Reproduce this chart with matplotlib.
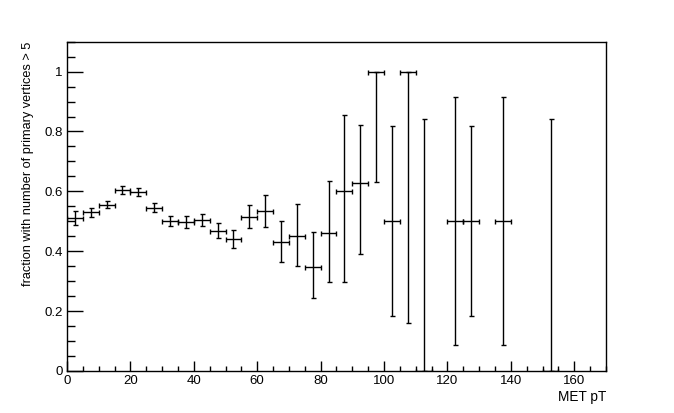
import matplotlib
matplotlib.use("Agg")
import matplotlib.pyplot as plt
from matplotlib.ticker import MultipleLocator, FuncFormatter

plt.rcParams['font.family'] = ['Liberation Sans', 'DejaVu Sans']

# bin centres (MET pT), bin half width 2.5
centers = [2.5, 7.5, 12.5, 17.5, 22.5, 27.5, 32.5, 37.5, 42.5, 47.5,
           52.5, 57.5, 62.5, 67.5, 72.5, 77.5, 82.5, 87.5, 92.5, 97.5,
           102.5, 107.5, 112.5, 122.5, 127.5, 137.5, 152.5]
values = [0.511, 0.531, 0.556, 0.604, 0.598, 0.546, 0.501, 0.499, 0.504, 0.468,
          0.440, 0.516, 0.534, 0.432, 0.452, 0.347, 0.462, 0.601, 0.627, 1.0,
          0.5, 1.0, 0.0, 0.5, 0.5, 0.5, 0.0]
err_low = [0.023, 0.015, 0.012, 0.013, 0.013, 0.016, 0.017, 0.020, 0.020, 0.025,
           0.030, 0.038, 0.054, 0.068, 0.101, 0.102, 0.164, 0.303, 0.235, 0.369,
           0.316, 0.841, 0.0, 0.414, 0.316, 0.414, 0.0]
err_high = [0.023, 0.015, 0.012, 0.013, 0.013, 0.016, 0.017, 0.020, 0.020, 0.025,
            0.030, 0.038, 0.053, 0.068, 0.106, 0.118, 0.172, 0.253, 0.194, 0.0,
            0.318, 0.0, 0.841, 0.414, 0.318, 0.414, 0.841]
half_width = [2.5] * len(centers)

fig = plt.figure(figsize=(6.74, 4.13), dpi=100)
ax = fig.add_axes([0.0994, 0.1017, 0.7997, 0.7974])

ax.errorbar(centers, values, xerr=half_width, yerr=[err_low, err_high],
            fmt='none', ecolor='black', elinewidth=1.0, capsize=1.8,
            capthick=1.0)

ax.set_xlim(0, 170)
ax.set_ylim(0, 1.1)

ax.xaxis.set_major_locator(MultipleLocator(20))
ax.xaxis.set_minor_locator(MultipleLocator(5))
ax.yaxis.set_major_locator(MultipleLocator(0.2))
ax.yaxis.set_minor_locator(MultipleLocator(0.05))
fmt = FuncFormatter(lambda v, p: '%g' % round(v, 6))
ax.xaxis.set_major_formatter(fmt)
ax.yaxis.set_major_formatter(fmt)

ax.tick_params(axis='both', which='both', direction='in', top=False, right=False,
               labelsize=9.5, width=1.0, pad=3)
ax.tick_params(axis='y', which='major', length=11.3)
ax.tick_params(axis='y', which='minor', length=6)
ax.tick_params(axis='x', which='major', length=7.2)
ax.tick_params(axis='x', which='minor', length=3.6)

for s in ax.spines.values():
    s.set_linewidth(1.0)

ax.text(1.0, -0.058, 'MET pT', transform=ax.transAxes, ha='right', va='top',
        fontsize=9.8)
ax.text(-0.072, 1.0, 'fraction with number of primary vertices > 5',
        transform=ax.transAxes, rotation=90, ha='center', va='top', fontsize=9.2)

fig.savefig('out.png', dpi=100)
